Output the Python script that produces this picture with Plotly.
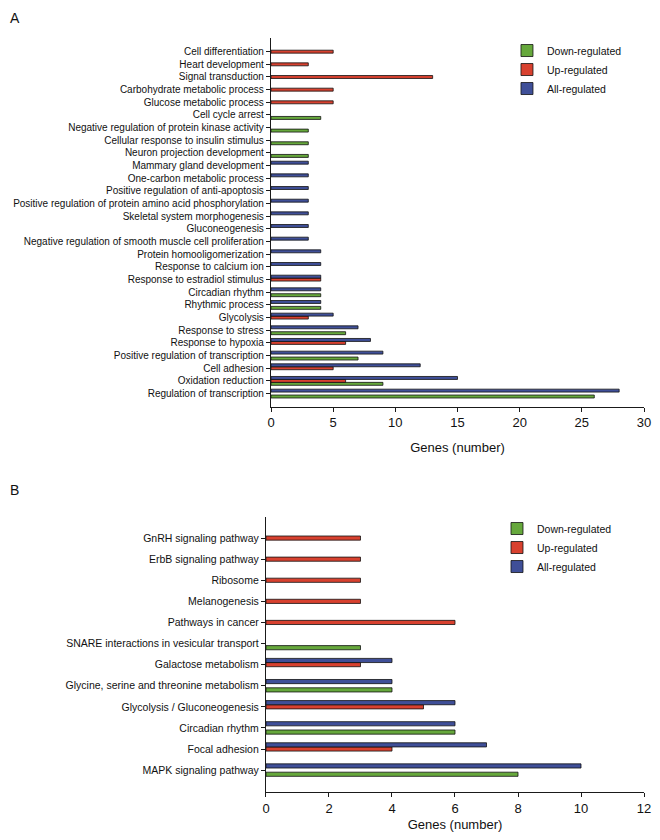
import plotly.graph_objects as go

# ---- Panel A: GO biological processes (top to bottom as drawn) ----
go_terms = [
    "Cell differentiation", "Heart development", "Signal transduction",
    "Carbohydrate metabolic process", "Glucose metabolic process", "Cell cycle arrest",
    "Negative regulation of protein kinase activity", "Cellular response to insulin stimulus",
    "Neuron projection development", "Mammary gland development", "One-carbon metabolic process",
    "Positive regulation of anti-apoptosis", "Positive regulation of protein amino acid phosphorylation",
    "Skeletal system morphogenesis", "Gluconeogenesis",
    "Negative regulation of smooth muscle cell proliferation", "Protein homooligomerization",
    "Response to calcium ion", "Response to estradiol stimulus", "Circadian rhythm",
    "Rhythmic process", "Glycolysis", "Response to stress", "Response to hypoxia",
    "Positive regulation of transcription", "Cell adhesion", "Oxidation reduction",
    "Regulation of transcription",
]
go_down = [None, None, None, None, None, 4, 3, 3, 3, None, None, None, None, None, None,
           None, None, None, None, 4, 4, None, 6, None, 7, None, 9, 26]
go_up = [5, 3, 13, 5, 5, None, None, None, None, None, None, None, None, None, None,
         None, None, None, 4, None, None, 3, None, 6, None, 5, 6, None]
go_all = [None, None, None, None, None, None, None, None, None, 3, 3, 3, 3, 3, 3,
          3, 4, 4, 4, 4, 4, 5, 7, 8, 9, 12, 15, 28]

# ---- Panel B: KEGG pathways (top to bottom as drawn) ----
kegg_terms = [
    "GnRH signaling pathway", "ErbB signaling pathway", "Ribosome", "Melanogenesis",
    "Pathways in cancer", "SNARE interactions in vesicular transport", "Galactose metabolism",
    "Glycine, serine and threonine metabolism", "Glycolysis / Gluconeogenesis",
    "Circadian rhythm", "Focal adhesion", "MAPK signaling pathway",
]
kegg_down = [None, None, None, None, None, 3, None, 4, None, 6, None, 8]
kegg_up = [3, 3, 3, 3, 6, None, 3, None, 5, None, 4, None]
kegg_all = [None, None, None, None, None, None, 4, 4, 6, 6, 7, 10]

series = ["Down-regulated", "Up-regulated", "All-regulated"]
colors = ["#66a83c", "#d8412f", "#3f4f98"]

FONT = "Liberation Sans, Arial, sans-serif"
AXCOL = "#1a1a1a"
W, H = 644, 824  # leaves room for the 8px body margin in the 660x840 window

fig = go.Figure()

# slot offsets inside each category (down at bottom, all at top)
a_w = 0.233
for i, (name, vals, col) in enumerate(zip(series, [go_down, go_up, go_all], colors)):
    fig.add_trace(go.Bar(
        y=go_terms[::-1], x=vals[::-1], orientation="h", name=name,
        width=a_w, offset=-1.5 * a_w + i * a_w,
        marker=dict(color=col, line=dict(color="#111111", width=0.8)),
        xaxis="x", yaxis="y", legend="legend",
    ))

b_w = 0.197
for i, (name, vals, col) in enumerate(zip(series, [kegg_down, kegg_up, kegg_all], colors)):
    fig.add_trace(go.Bar(
        y=kegg_terms[::-1], x=vals[::-1], orientation="h", name=name,
        width=b_w, offset=-1.5 * b_w + i * b_w,
        marker=dict(color=col, line=dict(color="#111111", width=0.8)),
        xaxis="x2", yaxis="y2", legend="legend2",
    ))

xcommon = dict(showline=True, linecolor=AXCOL, linewidth=1.3, ticks="outside",
               ticklen=4, tickwidth=1.2, tickcolor=AXCOL, showgrid=False, zeroline=False,
               tickfont=dict(size=13, color="#111"), title_font=dict(size=13, color="#111"),
               automargin=False)
ycommon = dict(showline=True, linecolor=AXCOL, linewidth=1.3, ticks="outside",
               ticklen=4, tickwidth=1, tickcolor=AXCOL, showgrid=False, zeroline=False,
               type="category", automargin=False)

fig.update_layout(
    width=W, height=H,
    margin=dict(l=0, r=0, t=0, b=0, autoexpand=False),
    paper_bgcolor="white", plot_bgcolor="white",
    font=dict(family=FONT, color="#111"),
    barmode="overlay",
    xaxis=dict(domain=[0.4084, 0.9876], range=[0, 30], dtick=5,
               title_text="Genes (number)", title_standoff=13, anchor="y", **xcommon),
    yaxis=dict(domain=[0.5161, 0.9636], range=[-1.04, 28.08], anchor="x",
               categoryorder="array", categoryarray=go_terms[::-1],
               tickmode="array", tickvals=go_terms, ticktext=go_terms,
               tickfont=dict(size=10, color="#111"), **ycommon),
    xaxis2=dict(domain=[0.4006, 0.9876], range=[0, 12], dtick=2,
                title_text="Genes (number)", title_standoff=6, anchor="y2", **xcommon),
    yaxis2=dict(domain=[0.0485, 0.3823], range=[-1.04, 12.0], anchor="x2",
                categoryorder="array", categoryarray=kegg_terms[::-1],
                tickmode="array", tickvals=kegg_terms, ticktext=kegg_terms,
                tickfont=dict(size=10.5, color="#111"), **ycommon),
    legend=dict(x=0.7748, y=0.966, xanchor="left", yanchor="top",
                font=dict(size=10.5), traceorder="normal", bgcolor="rgba(0,0,0,0)"),
    legend2=dict(x=0.7593, y=0.3859, xanchor="left", yanchor="top",
                 font=dict(size=10.5), traceorder="normal", bgcolor="rgba(0,0,0,0)"),
    annotations=[
        dict(text="A", x=0, y=1, xref="paper", yref="paper",
             xanchor="left", yanchor="top", showarrow=False, font=dict(size=14)),
        dict(text="B", x=0, y=1 - 482 / H, xref="paper", yref="paper",
             xanchor="left", yanchor="middle", showarrow=False, font=dict(size=14)),
    ],
)

fig.write_html("out.html")
